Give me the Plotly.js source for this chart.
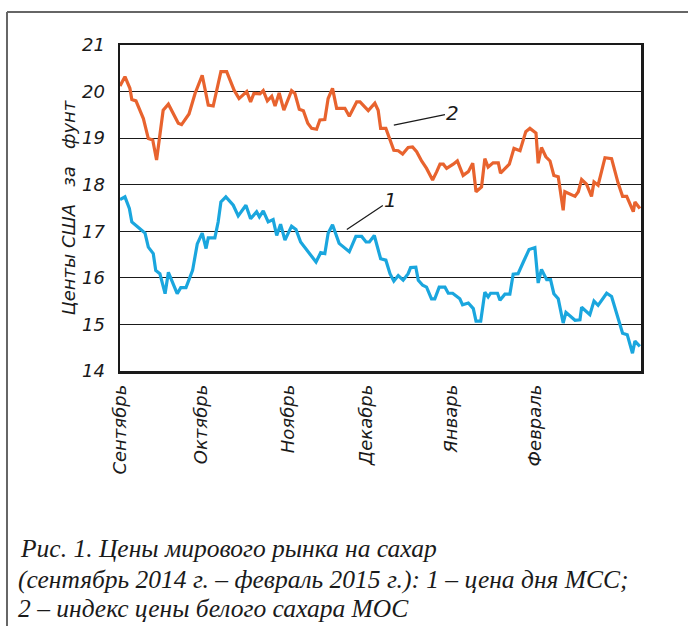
<!DOCTYPE html>
<html><head><meta charset="utf-8">
<script src="https://cdn.plot.ly/plotly-3.0.1.min.js"></script>
<style>html,body{margin:0;padding:0;background:#fff;}#c{width:688px;height:626px;}</style>
</head><body><div id="c"></div>
<script>
// Day index counted from 1 September 2014
const whiteDays = [0,1.8,3.6,4.3,5.8,8.5,10.3,11.9,13.3,15.7,17.6,21.2,22.4,25.1,27.3,29.9,32.1,33.9,36.7,38.8,41.5,43.3,46.1,47.5,48.7,50.9,52.1,53.6,55.2,56.4,57.9,59.6,62.4,63.6,65.2,66.7,68.3,69.7,71.5,72.7,74.5,75.7,77.3,78.8,81.8,83.4,86.1,87.3,90.3,92.7,93.9,94.8,96.7,98.2,99.6,101.2,102.8,104.8,106.4,107.9,109.7,111.5,113.7,115.2,116.4,117.6,118.8,121.2,122.7,124.8,126.7,128.3,129.5,131.5,132.7,133.9,135.7,137.6,138.4,141.6,143.3,145.5,147.6,149.1,151.3,152.1,153.3,154.9,156.4,157.8,159.4,161.2,161.8,165.5,166.7,167.9,169.7,171.5,172.4,173.9,176.4,178.8,181.2,182.8,184.3,186.7,187.3,189.1];
const whiteIndex = [20.12,20.32,20.07,19.83,19.80,19.42,18.99,18.96,18.53,19.60,19.73,19.32,19.29,19.52,19.96,20.35,19.71,19.69,20.43,20.43,20.03,19.85,20.00,19.78,19.96,19.95,20.02,19.80,19.90,19.69,19.97,19.60,20.02,19.96,19.62,19.59,19.32,19.21,19.19,19.39,19.40,19.85,20.07,19.64,19.64,19.47,19.78,19.78,19.59,19.75,19.60,19.21,19.21,18.99,18.74,18.73,18.66,18.80,18.81,18.71,18.51,18.35,18.10,18.28,18.44,18.44,18.35,18.44,18.51,18.20,18.28,18.46,17.85,17.95,18.56,18.38,18.47,18.47,18.25,18.44,18.78,18.73,19.14,19.21,19.11,18.46,18.80,18.60,18.51,18.20,18.17,17.45,17.85,17.75,17.85,18.11,18.01,17.75,18.06,17.99,18.58,18.56,18.03,17.75,17.75,17.42,17.63,17.49];

const rawDays = [0,1.8,3.4,4.3,6.7,9.1,10.3,12.1,13.0,14.5,16.4,17.6,20.8,22.1,24.0,26.4,28.1,29.9,31.3,32.1,34.5,35.7,36.7,38.5,41.2,43.0,45.8,47.5,49.7,50.7,52.1,53.9,55.7,57.0,58.4,60.0,62.4,64.0,65.7,68.5,71.3,73.0,74.5,75.7,77.3,79.7,83.4,85.8,87.9,89.5,90.7,92.5,94.8,96.7,98.2,99.6,101.2,103.0,104.8,105.7,107.6,108.5,110.1,111.5,113.3,114.5,116.1,118.2,119.4,121.0,123.6,124.6,126.7,128.5,129.5,131.2,132.7,133.9,134.8,137.3,138.2,140.0,141.8,143.0,144.8,146.7,148.8,150.9,152.1,153.3,155.2,156.6,157.8,159.4,161.2,162.2,165.5,167.3,167.9,170.9,172.4,173.9,177.0,178.8,181.6,182.8,184.5,186.4,187.3,189.1];
const rawPrice = [17.68,17.74,17.49,17.20,17.08,16.96,16.66,16.52,16.16,16.09,15.66,16.12,15.66,15.79,15.79,16.16,16.73,16.96,16.63,16.86,16.86,17.20,17.63,17.74,17.56,17.33,17.56,17.27,17.42,17.31,17.44,17.20,17.25,16.91,17.15,16.81,17.11,17.04,16.77,16.56,16.34,16.54,16.52,16.96,17.14,16.74,16.56,16.89,16.89,16.77,16.77,16.91,16.41,16.38,16.09,15.93,16.05,15.95,16.09,16.22,16.23,15.95,15.84,15.80,15.55,15.55,15.80,15.80,15.67,15.67,15.55,15.42,15.46,15.34,15.07,15.07,15.69,15.59,15.67,15.67,15.52,15.65,15.65,16.08,16.09,16.34,16.61,16.65,15.89,16.18,15.96,15.96,15.66,15.55,15.03,15.26,15.09,15.10,15.37,15.21,15.50,15.41,15.67,15.60,15.03,14.81,14.78,14.38,14.64,14.53];

const monthTicks = [0,29.5,61,89.5,120.5,151];
const monthLabels = ['Сентябрь','Октябрь','Ноябрь','Декабрь','Январь','Февраль'];
const yTicks = [14,15,16,17,18,19,20,21];
const captionLines = [
  'Рис. 1. Цены мирового рынка на сахар',
  '(сентябрь 2014 г. – февраль 2015 г.): 1 – цена дня МСС;',
  '2 – индекс цены белого сахара МОС'
];

const sans = 'DejaVu Sans';
const serif = 'Liberation Serif';

const traces = [
  {x: whiteDays, y: whiteIndex, type:'scatter', mode:'lines', line:{color:'#E8632E', width:3.2}, hoverinfo:'skip'},
  {x: rawDays, y: rawPrice, type:'scatter', mode:'lines', line:{color:'#1AA6DE', width:3.2}, hoverinfo:'skip'}
];

const capFont = {family:serif, size:25.5, color:'#1a1a1a', style:'italic'};
const layout = {
  width:688, height:626,
  margin:{l:120, r:47, t:45, b:255},
  paper_bgcolor:'#fff', plot_bgcolor:'#fff',
  showlegend:false,
  xaxis:{
    range:[0,189.5], tickmode:'array', tickvals:monthTicks, ticktext:monthLabels,
    tickangle:-90, showgrid:false, zeroline:false, ticks:'',
    showline:true, mirror:true, linecolor:'#1a1a1a', linewidth:2.5,
    tickfont:{family:sans, size:18, color:'#1a1a1a', style:'italic'},
    ticklabelstandoff:4
  },
  yaxis:{
    range:[14,21], tickmode:'array', tickvals:yTicks,
    showgrid:true, gridcolor:'#1a1a1a', gridwidth:1, zeroline:false, ticks:'',
    showline:true, mirror:true, linecolor:'#1a1a1a', linewidth:2.5,
    tickfont:{family:sans, size:18, color:'#1a1a1a', style:'italic'},
    ticklabelstandoff:9,
    title:{text:'Центы США\u00a0\u00a0 за\u00a0\u00a0 фунт', font:{family:sans, size:18, color:'#1a1a1a', style:'italic'}, standoff:2}
  },
  shapes:[
    {type:'line', xref:'paper', yref:'paper', x0:-0.2169, x1:-0.2169, y0:1.1013, y1:-0.9, line:{color:'#666', width:2}},
    {type:'line', xref:'paper', yref:'paper', x0:-0.2169, x1:1.2, y0:1.1013, y1:1.1013, line:{color:'#666', width:2}}
  ],
  annotations:[
    {x:99.6, y:19.28, xref:'x', yref:'y', text:'2', showarrow:true, ax:121.1, ay:19.54, axref:'x', ayref:'y', arrowhead:0, arrowwidth:1.2, arrowcolor:'#1a1a1a', font:{family:sans, size:20, color:'#1a1a1a', style:'italic'}, standoff:0},
    {x:82.5, y:17.04, xref:'x', yref:'y', text:'1', showarrow:true, ax:98.5, ay:17.67, axref:'x', ayref:'y', arrowhead:0, arrowwidth:1.2, arrowcolor:'#1a1a1a', font:{family:sans, size:20, color:'#1a1a1a', style:'italic'}, standoff:0},
    {x:-0.196, y:-0.544, xref:'paper', yref:'paper', xanchor:'left', yanchor:'middle', showarrow:false, align:'left', text:captionLines[0], font:capFont},
    {x:-0.2, y:-0.640, xref:'paper', yref:'paper', xanchor:'left', yanchor:'middle', showarrow:false, align:'left', text:captionLines[1], font:capFont},
    {x:-0.2, y:-0.729, xref:'paper', yref:'paper', xanchor:'left', yanchor:'middle', showarrow:false, align:'left', text:captionLines[2], font:capFont}
  ]
};
Plotly.newPlot('c', traces, layout, {staticPlot:true, displayModeBar:false});
</script></body></html>
